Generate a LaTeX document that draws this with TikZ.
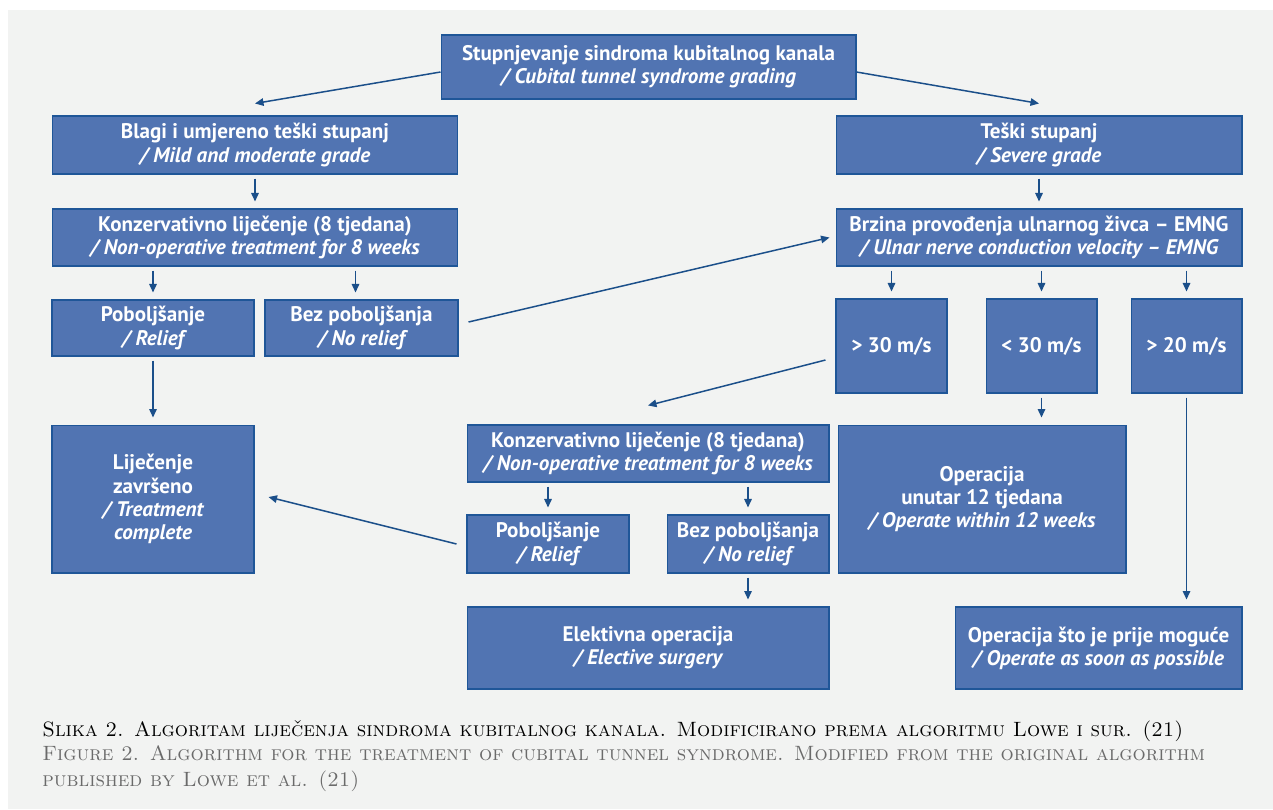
\documentclass[tikz,border=0pt]{standalone}
\usepackage{fontspec}
\newfontfamily\boxfont{PT Sans}
\usetikzlibrary{arrows.meta}
\definecolor{pagegray}{HTML}{F2F3F2}
\definecolor{boxblue}{HTML}{5174B2}
\definecolor{edgeblue}{HTML}{1F5698}
\definecolor{arrowblue}{HTML}{1B4F8A}
\definecolor{capgray}{HTML}{6A6A6A}

\begin{document}
\begin{tikzpicture}[x=0.02cm, y=-0.02cm,
	box/.style={draw=edgeblue, line width=0.6pt, fill=boxblue, text=white, inner sep=0pt,
		align=center, font=\boxfont\bfseries\fontsize{12pt}{13.2pt}\selectfont},
	arr/.style={draw=arrowblue, line width=0.85pt, -{Triangle[length=0.17cm,width=0.15cm]}},
	vert/.style={arr, shorten <=0.08cm, shorten >=0.14cm},
	caption/.style={anchor=base west, inner sep=0pt, font=\fontsize{11.8pt}{14pt}\selectfont\scshape}]
	\useasboundingbox (0,0) rectangle (1273,809);
	\fill[pagegray] (8,10) rectangle (1273,809);

	\node (grading) at (648.5,67) [box, minimum width=8.3cm, minimum height=1.28cm] {Stupnjevanje sindroma kubitalnog kanala\\ \itshape / Cubital tunnel syndrome grading};
	\node (mild) at (255,145) [box, minimum width=8.12cm, minimum height=1.16cm] {Blagi i umjereno teški stupanj\\ \itshape / Mild and moderate grade};
	\node (severe) at (1039,145) [box, minimum width=8.12cm, minimum height=1.16cm] {Teški stupanj\\ \itshape / Severe grade};
	\draw[arr] ([yshift=-0.1cm]grading.west) to ([yshift=0.24cm]mild.north);
	\draw[arr] ([yshift=-0.1cm]grading.east) to ([yshift=0.24cm]severe.north);

	\node (conserv) at (255,237.5) [box, minimum width=8.12cm, minimum height=1.14cm] {Konzervativno liječenje (8 tjedana)\\ \itshape / Non-operative treatment for 8 weeks};
	\node (emng) at (1039,237.5) [box, minimum width=8.12cm, minimum height=1.14cm] {Brzina provođenja ulnarnog živca – EMNG\\ \itshape / Ulnar nerve conduction velocity – EMNG};
	\draw[vert] (mild) to (conserv);
	\draw[vert] (severe) to (emng);

	\node (relief) at (153,328) [box, minimum width=4.04cm, minimum height=1.12cm] {Poboljšanje\\ \itshape / Relief};
	\node (norelief) at (361.5,328) [box, minimum width=3.86cm, minimum height=1.12cm] {Bez poboljšanja\\ \itshape / No relief};
	\draw[vert] (relief.north |- conserv.south) to (relief.north);
	\draw[vert] ([xshift=-0.12cm]norelief.north |- conserv.south) to ([xshift=-0.12cm]norelief.north);
	\draw[arr] ([shift={(0.2cm,0.12cm)}]norelief.east) to ([xshift=-0.12cm]emng.west);

	\node (fast) at (891.5,346) [box, minimum width=2.22cm, minimum height=1.88cm] {> 30 m/s};
	\node (slow) at (1041.5,346) [box, minimum width=2.22cm, minimum height=1.88cm] {< 30 m/s};
	\node (mid) at (1186.5,346) [box, minimum width=2.22cm, minimum height=1.88cm] {> 20 m/s};
	\draw[vert] (fast.north |- emng.south) to (fast.north);
	\draw[vert] (slow.north |- emng.south) to (slow.north);
	\draw[vert] (mid.north |- emng.south) to (mid.north);

	\node (complete) at (153,499) [box, minimum width=4.04cm, minimum height=2.96cm] {Liječenje\\ završeno\\ \itshape / Treatment\\ \itshape complete};
	\node (conserv2) at (648,453.5) [box, minimum width=7.24cm, minimum height=1.14cm] {Konzervativno liječenje (8 tjedana)\\ \itshape / Non-operative treatment for 8 weeks};
	\node (within) at (982,499) [box, minimum width=5.76cm, minimum height=2.96cm] {Operacija\\ unutar 12 tjedana\\ \itshape / Operate within 12 weeks};
	\draw[vert] (relief) to (complete);
	\draw[arr] ([shift={(-0.2cm,-0.28cm)}]fast.west) to ([yshift=0.38cm]conserv2.north);
	\draw[vert] (slow.south) to (slow.south |- within.north);

	\node (relief2) at (548,544) [box, minimum width=3.24cm, minimum height=1.16cm] {Poboljšanje\\ \itshape / Relief};
	\node (norelief2) at (748,544) [box, minimum width=3.24cm, minimum height=1.16cm] {Bez poboljšanja\\ \itshape / No relief};
	\draw[vert] (relief2.north |- conserv2.south) to (relief2.north);
	\draw[vert] (norelief2.north |- conserv2.south) to (norelief2.north);
	\draw[arr] ([xshift=-0.2cm]relief2.west) to ([shift={(0.28cm,0.04cm)}]complete.east);

	\node (elective) at (648,648) [box, minimum width=7.24cm, minimum height=1.64cm] {Elektivna operacija\\ \itshape / Elective surgery};
	\node (asap) at (1098.5,648) [box, minimum width=5.74cm, minimum height=1.64cm] {Operacija što je prije moguće\\ \itshape / Operate as soon as possible};
	\draw[vert] (norelief2.south) to (norelief2.south |- elective.north);
	\draw[vert] (mid.south) to (mid.south |- asap.north);

	% caption
	\node (capHr) at (42,736) [caption] {Slika 2. Algoritam liječenja sindroma kubitalnog kanala. Modificirano prema algoritmu Lowe i sur. (21)};
	\node (capEn) at (42,760) [caption, text=capgray] {Figure 2. Algorithm for the treatment of cubital tunnel syndrome. Modified from the original algorithm};
	\node (capEn2) at (42,786) [caption, text=capgray] {published by Lowe et al. (21)};
\end{tikzpicture}
\end{document}
